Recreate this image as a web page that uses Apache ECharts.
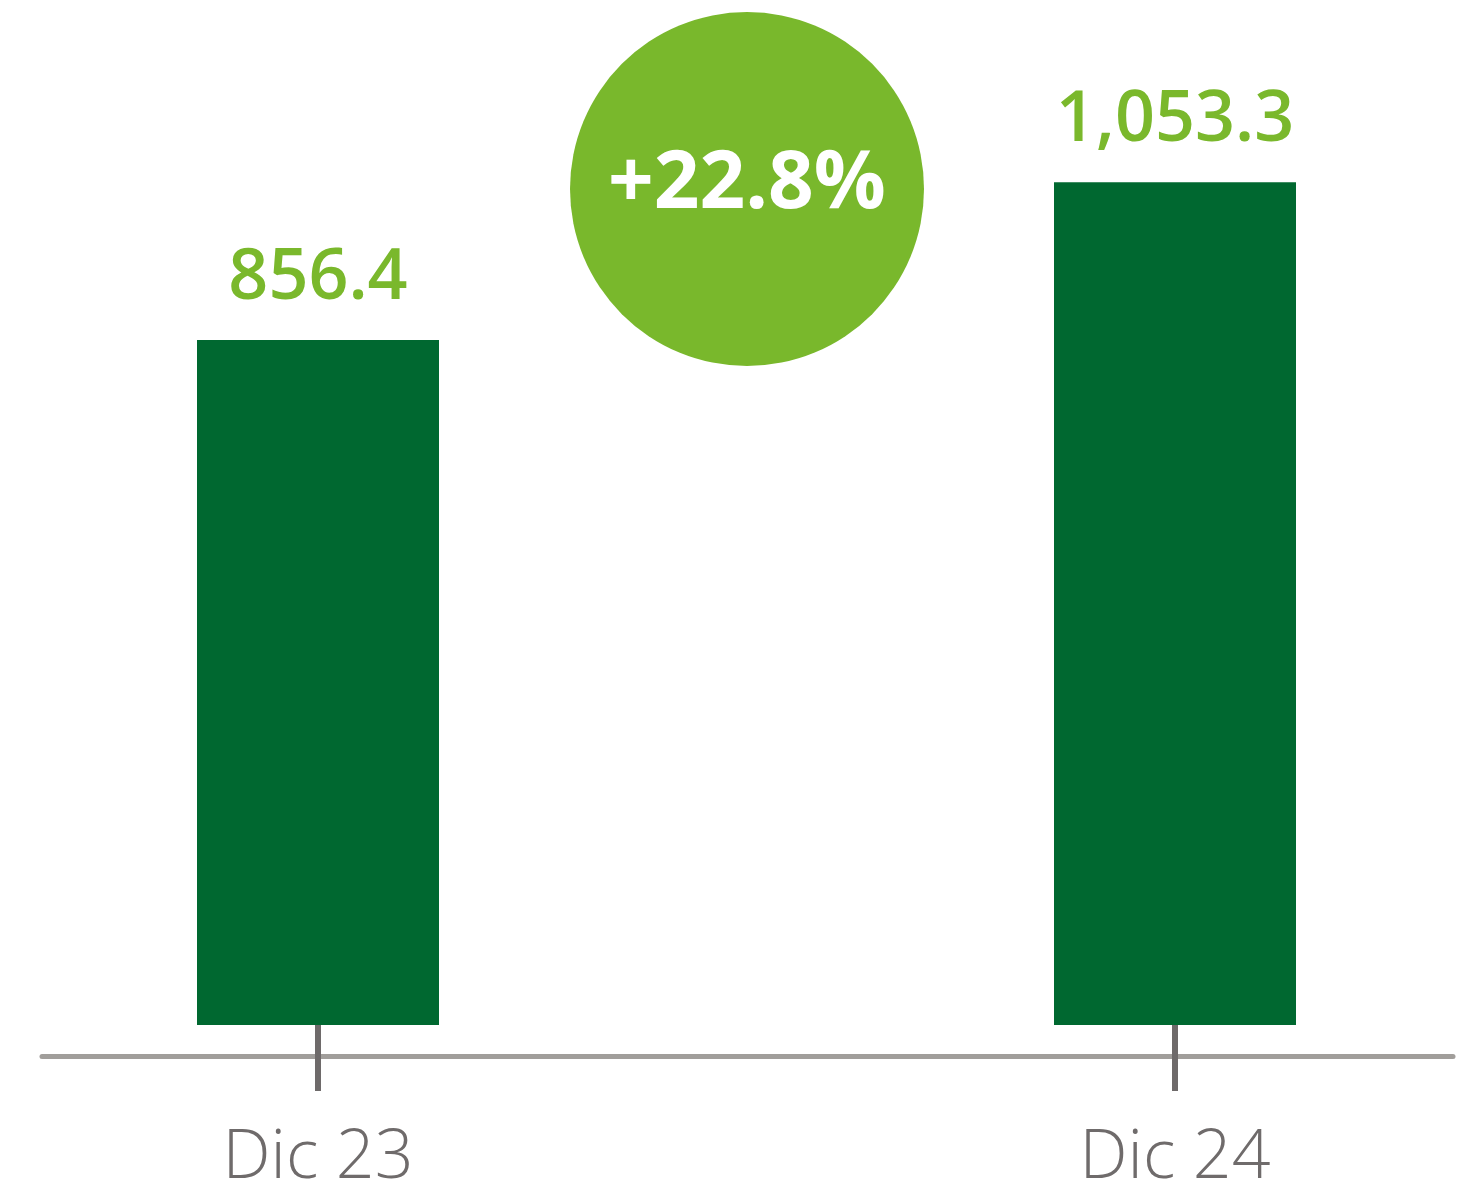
<!DOCTYPE html>
<html>
<head>
<meta charset="utf-8">
<script src="https://cdn.jsdelivr.net/npm/echarts@6/dist/echarts.min.js"></script>
<style>
html,body{margin:0;padding:0;background:#fff;}
#chart{width:1460px;height:1193px;}
</style>
</head>
<body>
<div id="chart"></div>
<script>
var categories = ['Dic 23', 'Dic 24'];
var values = [856.4, 1053.3];
var valueLabels = ['856.4', '1,053.3'];
var changeLabel = '+22.8%';

var chart = echarts.init(document.getElementById('chart'), null, {renderer: 'canvas'});
chart.setOption({
  animation: false,
  backgroundColor: '#ffffff',
  grid: [
    {left: 318, right: 285, top: 25, bottom: 167},
    {left: 42, right: 7, top: 25, bottom: 137}
  ],
  xAxis: [
    {
      type: 'category', gridIndex: 0, data: categories, boundaryGap: false,
      position: 'bottom',
      axisLine: {show: false, onZero: true},
      axisTick: {show: true, length: 66, lineStyle: {color: '#6e6a6a', width: 6}},
      axisLabel: {
        margin: 100, color: '#6f6b6b', fontSize: 68, fontWeight: 300,
        fontFamily: 'Open Sans', lineHeight: 68
      },
      splitLine: {show: false}
    },
    {
      type: 'category', gridIndex: 1, data: categories, position: 'bottom',
      axisLine: {show: true, onZero: false, lineStyle: {color: '#a19e9b', width: 5}},
      axisTick: {show: false},
      axisLabel: {show: false},
      splitLine: {show: false}
    }
  ],
  yAxis: [
    {type: 'value', gridIndex: 0, min: 0, max: 1250, show: false, splitLine: {show: false}},
    {type: 'value', gridIndex: 1, min: 0, max: 1, show: false, splitLine: {show: false}}
  ],
  series: [
    {
      type: 'bar', xAxisIndex: 0, yAxisIndex: 0, data: values, barWidth: 242,
      clip: false,
      itemStyle: {color: '#006830'},
      label: {
        show: true, position: 'top', distance: 26,
        formatter: function (p) { return valueLabels[p.dataIndex]; },
        color: '#7ab82c', fontSize: 70, fontWeight: 600, fontFamily: 'Open Sans',
        lineHeight: 70
      }
    }
  ],
  graphic: [
    {
      type: 'circle', shape: {cx: 747, cy: 189, r: 177},
      style: {fill: '#79b82c'}, silent: true
    },
    {
      type: 'text', x: 747, y: 185,
      style: {
        text: changeLabel, fill: '#ffffff', fontSize: 80, fontWeight: 700,
        fontFamily: 'Open Sans', align: 'center', verticalAlign: 'middle'
      }
    }
  ]
});
</script>
</body>
</html>
